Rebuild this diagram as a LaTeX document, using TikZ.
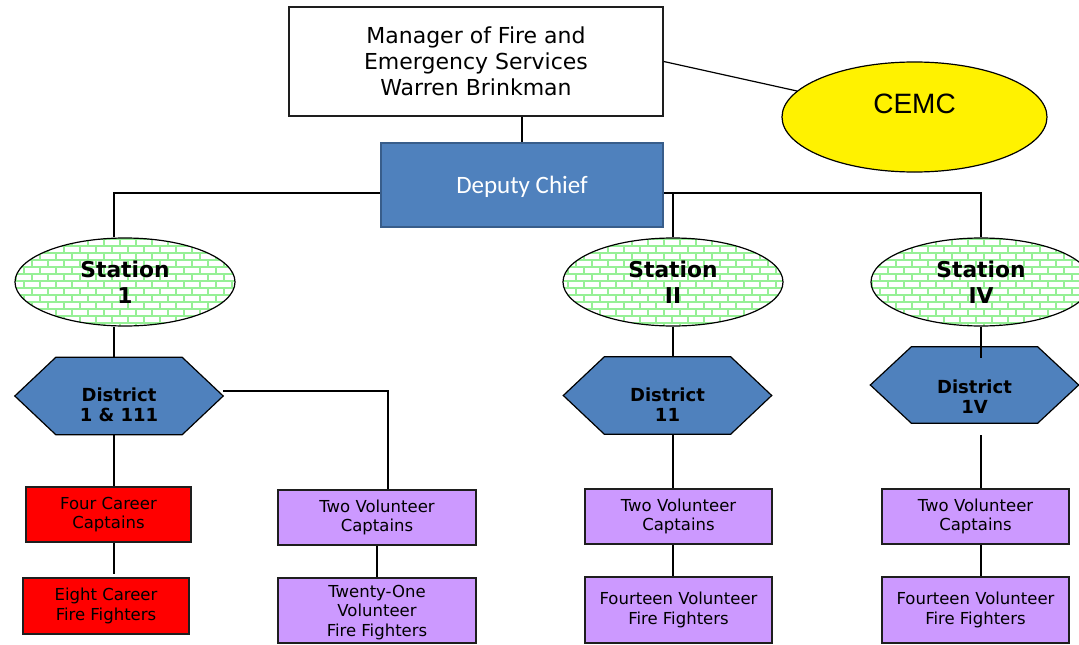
\documentclass[tikz,border=0pt]{standalone}
\usepackage{fontspec}
\usetikzlibrary{shapes.geometric,patterns,calc,backgrounds}
\newfontfamily\vfont{DejaVu Sans}
\newfontfamily\afont{Liberation Sans}
\newfontfamily\cfont{Carlito}

% green mortar lines of a brick wall
\pgfdeclarepatternformonly{brickwall}{\pgfqpoint{-1pt}{-1pt}}{\pgfqpoint{17pt}{15pt}}{\pgfqpoint{16pt}{14pt}}{%
  \pgfsetlinewidth{1.6pt}%
  \pgfpathmoveto{\pgfqpoint{0pt}{0pt}}\pgfpathlineto{\pgfqpoint{16pt}{0pt}}%
  \pgfpathmoveto{\pgfqpoint{0pt}{7pt}}\pgfpathlineto{\pgfqpoint{16pt}{7pt}}%
  \pgfpathmoveto{\pgfqpoint{0pt}{0pt}}\pgfpathlineto{\pgfqpoint{0pt}{7pt}}%
  \pgfpathmoveto{\pgfqpoint{8pt}{7pt}}\pgfpathlineto{\pgfqpoint{8pt}{14pt}}%
  \pgfusepath{stroke}}

\definecolor{deputyblue}{RGB}{79,129,189}
\definecolor{deputyedge}{RGB}{56,93,138}
\definecolor{mortar}{RGB}{150,240,150}
\definecolor{volpurple}{RGB}{204,153,255}
\definecolor{boxedge}{RGB}{30,30,30}

\begin{document}
\begin{tikzpicture}[x=1pt,y=-1pt,
  conn/.style={draw=black,line width=1.4pt},
  plainbox/.style={rectangle,draw=boxedge,line width=1.5pt,inner sep=0pt,align=center},
  station/.style={ellipse,draw=black,line width=1.2pt,pattern=brickwall,pattern color=mortar,
    inner sep=0pt,align=center,minimum width=220pt,minimum height=88pt,
    font=\vfont\bfseries\fontsize{21.8}{26}\selectfont},
  district/.style={rectangle,inner sep=0pt,minimum width=208pt,minimum height=77pt},
  distlabel/.style={align=center,font=\vfont\bfseries\fontsize{18}{20}\selectfont},
  hexfill/.style={fill=deputyblue,draw=black,line width=1.2pt,line join=miter},
  career/.style={plainbox,fill=red,font=\vfont\fontsize{16.5}{19.5}\selectfont},
  volunteer/.style={plainbox,fill=volpurple,font=\vfont\fontsize{16.5}{19.5}\selectfont}]

\useasboundingbox (0,0) rectangle (1079,645);
\begin{scope}[on background layer]
  \fill[white] (0,0) rectangle (1079,645);
\end{scope}

% top of the chart
\node[plainbox,minimum width=374pt,minimum height=109pt,fill=white,
  font=\vfont\fontsize{22}{26}\selectfont] (mgr) at (476,61.5)
  {Manager of Fire and\\Emergency Services\\Warren Brinkman};
\node[ellipse,draw=black,line width=1.2pt,fill=yellow,inner sep=0pt,
  minimum width=265pt,minimum height=110pt,text height=0pt,text depth=8pt,
  font=\afont\fontsize{28}{30}\selectfont] (cemc) at (914.5,117) {CEMC};
\node[rectangle,fill=deputyblue,draw=deputyedge,line width=2.5pt,
  minimum width=282pt,minimum height=84pt,text=white,text height=16pt,text depth=0pt,
  font=\cfont\fontsize{25}{28}\selectfont] (dep) at (522,185) {Deputy Chief};

% stations
\node[station] (st1) at (125,282) {Station\\1};
\node[station] (st2) at (673,282) {Station\\II};
\node[station] (st4) at (981,282) {Station\\IV};

% districts (hexagons drawn behind the labels)
\node[district,label={[distlabel,yshift=-9pt,name=d1t]center:{District\\1 \& 111}}] (d1) at (119,396) {};
\node[district,label={[distlabel,yshift=-9.5pt,name=d2t]center:{District\\11}}] (d2) at (667.5,395.5) {};
\node[district,minimum height=76pt,label={[distlabel,yshift=-12pt,name=d4t]center:{District\\1V}}] (d4) at (974.5,385) {};
\begin{scope}[on background layer]
  \foreach \n in {d1,d2,d4}
    \draw[hexfill] (\n.west) -- ($(\n.north west)+(41,0)$) -- ($(\n.north east)+(-41,0)$)
      -- (\n.east) -- ($(\n.south east)+(-41,0)$) -- ($(\n.south west)+(41,0)$) -- cycle;
\end{scope}

% captains and fire fighters
\node[career,minimum width=165pt,minimum height=55pt] (c1) at (108.5,514.5) {Four Career\\Captains};
\node[career,minimum width=166pt,minimum height=56pt] (f1) at (106,606) {Eight Career\\Fire Fighters};
\node[volunteer,minimum width=198pt,minimum height=55pt] (c2) at (377,517.5) {Two Volunteer\\Captains};
\node[volunteer,minimum width=198pt,minimum height=65pt,text depth=0pt] (f2) at (377,610.5) {Twenty-One\\Volunteer\\Fire Fighters};
\node[volunteer,minimum width=187pt,minimum height=55pt] (c3) at (678.5,516.5) {Two Volunteer\\Captains};
\node[volunteer,minimum width=187pt,minimum height=66pt] (f3) at (678.5,610) {Fourteen Volunteer\\Fire Fighters};
\node[volunteer,minimum width=187pt,minimum height=55pt] (c4) at (975.5,516.5) {Two Volunteer\\Captains};
\node[volunteer,minimum width=187pt,minimum height=66pt] (f4) at (975.5,610) {Fourteen Volunteer\\Fire Fighters};

% connectors
\draw[conn] (dep.north) -- (dep.north |- mgr.south);
\draw[conn,line width=1.2pt] (mgr.east) -- (cemc);
\draw[conn] ($(dep.west)+(0,8)$) -| ($(st1.north)+(-11,0)$);
\draw[conn] ($(dep.east)+(0,8)$) -| (st2.north);
\draw[conn] ($(dep.east)+(0,8)$) -| (st4.north);

\draw[conn] ($(st1.south)+(-11,0)$) -- ($(st1.south |- d1.north)+(-11,0)$);
\draw[conn] ($(d1.south)+(-5,0)$) -- ($(d1.south |- c1.north)+(-5,0)$);
\draw[conn] ($(c1.south)+(5.5,0)$) -- ($(c1.south |- f1.north)+(5.5,-3)$);
\draw[conn] ($(d1.east)+(0,-5)$) -| ($(c2.north)+(11,0)$);
\draw[conn] (c2.south) -- (c2.south |- f2.north);

\draw[conn] (st2.south) -- (st2.south |- d2.north);
\draw[conn] (st2.south |- d2.south) -- (st2.south |- c3.north);
\draw[conn] (st2.south |- c3.south) -- (st2.south |- f3.north);

\draw[conn] (st4.south) -- ($(st4.south |- d4.north)+(0,11)$);
\draw[conn] ($(st4.south |- d4.south)+(0,12)$) -- (st4.south |- c4.north);
\draw[conn] (st4.south |- c4.south) -- (st4.south |- f4.north);
\end{tikzpicture}
\end{document}
